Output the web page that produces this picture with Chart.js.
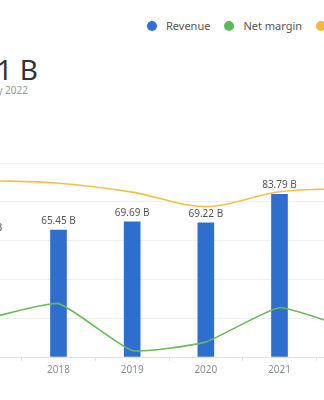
<!DOCTYPE html>
<html>
<head>
<meta charset="utf-8">
<script src="https://cdn.jsdelivr.net/npm/chart.js@4"></script>
<style>
  html, body { margin:0; padding:0; width:324px; height:400px; overflow:hidden; background:#fff; font-family:"Noto Sans", sans-serif; }
  #title { position:absolute; left:-300px; width:338px; top:50px; text-align:right; font-size:28px; color:#333; line-height:38px; white-space:nowrap; }
  #sub { position:absolute; left:-300px; width:328px; top:83px; text-align:right; font-size:10px; color:#999; line-height:14px; white-space:nowrap; }
  #legend { position:absolute; left:147px; top:17px; white-space:nowrap; font-size:11px; color:#555; line-height:18px; }
  #legend span.item { display:inline-block; margin-right:14px; }
  #legend span.dot { display:inline-block; width:10px; height:10px; border-radius:50%; vertical-align:-1px; margin-right:9px; }
  #wrap { position:absolute; left:-52px; top:155px; width:442px; height:245px; }
</style>
</head>
<body>
<div id="title">Total revenue 431.41 B</div>
<div id="sub">Last updated January 2022</div>
<div id="legend"></div>
<div id="wrap"><canvas id="c"></canvas></div>
<script>
const categories = ["2017", "2018", "2019", "2020", "2021", "2022"];
const revenue = [61.72, 65.45, 69.69, 69.22, 83.79, 91.04];
const netMargin = [19.5, 27.5, 3.4, 7.8, 25.4, 14.0];
const grossMargin = [91.0, 89.6, 85.0, 77.5, 85.2, 87.0];
const revenueLabels = revenue.map(v => v.toFixed(2) + " B");

const colors = { revenue: "#2e6ecf", net: "#6cb85a", gross: "#f1c24a" };
const legendItems = [
  ["Revenue", "#2f6fd6"],
  ["Net margin", "#5cb85c"],
  ["Gross margin", "#f3b93a"]
];
document.getElementById("legend").innerHTML = legendItems.map(([t, d]) =>
  `<span class="item"><span class="dot" style="background:${d}"></span>${t}</span>`).join("");

const barLabels = {
  id: "barLabels",
  afterDatasetsDraw(chart) {
    const ctx = chart.ctx;
    const meta = chart.getDatasetMeta(0);
    ctx.save();
    ctx.font = '10px "Noto Sans", sans-serif';
    ctx.fillStyle = "#555";
    ctx.textAlign = "center";
    ctx.textBaseline = "bottom";
    meta.data.forEach((bar, i) => {
      ctx.fillText(revenueLabels[i], bar.x, bar.y - 4);
    });
    ctx.restore();
  }
};

new Chart(document.getElementById("c"), {
  data: {
    labels: categories,
    datasets: [
      { type: "bar", label: "Revenue", data: revenue, backgroundColor: colors.revenue, barThickness: 16, yAxisID: "y", order: 2 },
      { type: "line", label: "Net margin", data: netMargin, borderColor: colors.net, borderWidth: 1.6, pointRadius: 0, tension: 0.15, yAxisID: "y1", order: 1 },
      { type: "line", label: "Gross margin", data: grossMargin, borderColor: colors.gross, borderWidth: 1.6, pointRadius: 0, tension: 0.35, yAxisID: "y1", order: 0 }
    ]
  },
  options: {
    responsive: true,
    maintainAspectRatio: false,
    animation: false,
    layout: { padding: { top: 8, bottom: 21, left: 0, right: 0 } },
    plugins: { legend: { display: false }, tooltip: { enabled: false } },
    scales: {
      x: {
        offset: true,
        grid: { offset: true, drawOnChartArea: false, drawTicks: true, tickLength: 4, color: "#e2e2e2" },
        border: { color: "#e2e2e2" },
        ticks: { color: "#8a8e96", font: { family: "Noto Sans", size: 10 }, padding: 3 }
      },
      y: {
        min: 0, max: 100,
        ticks: { display: false, stepSize: 20 },
        grid: { color: "#eeeeee", drawTicks: false },
        border: { display: false }
      },
      y1: { display: false, min: 0, max: 100 }
    }
  },
  plugins: [barLabels]
});
</script>
</body>
</html>
